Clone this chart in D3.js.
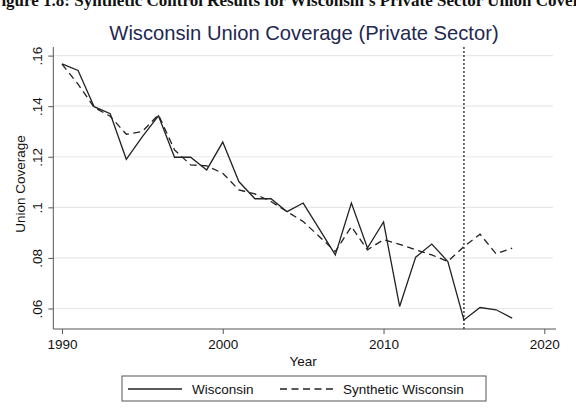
<!DOCTYPE html>
<html><head><meta charset="utf-8">
<script src="https://cdn.jsdelivr.net/npm/d3@7"></script>
<style>body{margin:0;background:#fff;}svg{display:block;font-family:"Liberation Sans",Arial,sans-serif;}</style>
</head><body>
<svg id="c" width="576" height="408"></svg>
<script>
const years = [1990,1991,1992,1993,1994,1995,1996,1997,1998,1999,2000,2001,2002,2003,2004,2005,2006,2007,2008,2009,2010,2011,2012,2013,2014,2015,2016,2017,2018];
const wisconsin = [0.1567,0.1541,0.1398,0.1370,0.1190,0.1280,0.1362,0.1198,0.1198,0.1148,0.1258,0.1102,0.1034,0.1034,0.0983,0.1017,0.0915,0.0812,0.1017,0.0839,0.0942,0.0608,0.0803,0.0855,0.0786,0.0555,0.0604,0.0595,0.0562];
const synthetic = [0.1566,0.1487,0.1395,0.1360,0.1289,0.1300,0.1366,0.1227,0.1168,0.1164,0.1135,0.1069,0.1053,0.1023,0.0983,0.0944,0.0885,0.0825,0.0924,0.0832,0.0872,0.0854,0.0832,0.0812,0.0786,0.0845,0.0894,0.0816,0.0839];
const xTicks = [1990,2000,2010,2020];
const yTicks = [0.06,0.08,0.10,0.12,0.14,0.16];
const yTickLabels = [".06",".08",".1",".12",".14",".16"];
const treatYear = 2015;
const seriesNames = ["Wisconsin","Synthetic Wisconsin"];
const titleText = "Wisconsin Union Coverage (Private Sector)";
const captionText = "Figure 1.8: Synthetic Control Results for Wisconsin\u2019s Private Sector Union Coverage";

const svg = d3.select("#c");
const L = 53.3, R = 553, T = 47, B = 329;
const x = d3.scaleLinear().domain([1989.46, 2020.54]).range([L, R]);
const y = d3.scaleLinear().domain([0.0519, 0.1634]).range([B, T]);

// caption (partly cut off at the top, as in the reference)
svg.append("text").attr("x", -9).attr("y", 6).attr("font-family", "'Liberation Serif',serif")
  .attr("font-weight", "bold").attr("font-size", 17).attr("fill", "#111").text(captionText);

// title
svg.append("text").attr("x", 304).attr("y", 40).attr("text-anchor", "middle")
  .attr("font-size", 20.2).attr("fill", "#1e2852").text(titleText);

// gridlines
svg.append("g").selectAll("line").data(yTicks).join("line")
  .attr("x1", L).attr("x2", R).attr("y1", d => y(d)).attr("y2", d => y(d))
  .attr("stroke", "#e8e8e8").attr("stroke-width", 1.2);

// axes
const yAxis = d3.axisLeft(y).tickValues(yTicks).tickSize(5).tickFormat((d,i) => yTickLabels[i]);
const gy = svg.append("g").attr("transform", `translate(${L},0)`).call(yAxis);
gy.select(".domain").attr("stroke", "#555").attr("d", `M0,${B}V${T}`);
gy.selectAll(".tick line").attr("stroke", "#555");
gy.selectAll(".tick text").attr("transform", "rotate(-90)").attr("x", 0).attr("y", -11)
  .attr("dy", 0).attr("text-anchor", "middle").attr("font-size", 13.5).attr("fill", "#111")
  .attr("font-family", "'Liberation Sans',Arial,sans-serif");

const xAxis = d3.axisBottom(x).tickValues(xTicks).tickSize(5).tickFormat(d3.format("d"));
const gx = svg.append("g").attr("transform", `translate(0,${B})`).call(xAxis);
gx.select(".domain").attr("stroke", "#555").attr("d", `M${L},0H${R+3}`);
gx.selectAll(".tick line").attr("stroke", "#555");
gx.selectAll(".tick text").attr("y", 10).attr("dy", "0.71em").attr("font-size", 13.5).attr("fill", "#111")
  .attr("font-family", "'Liberation Sans',Arial,sans-serif");

// axis titles
svg.append("text").attr("x", (L+R)/2).attr("y", 366).attr("text-anchor", "middle")
  .attr("font-size", 13.5).attr("fill", "#111").text("Year");
svg.append("text").attr("transform", `translate(25,${(T+B)/2 - 4}) rotate(-90)`).attr("text-anchor", "middle")
  .attr("font-size", 13.5).attr("fill", "#111").text("Union Coverage");

// treatment line
svg.append("line").attr("x1", x(treatYear)).attr("x2", x(treatYear)).attr("y1", T).attr("y2", B)
  .attr("stroke", "#333").attr("stroke-width", 1.4).attr("stroke-dasharray", "2,2");

const line = d3.line().x((d,i) => x(years[i])).y(d => y(d));
svg.append("path").datum(synthetic).attr("d", line).attr("fill", "none")
  .attr("stroke", "#222").attr("stroke-width", 1.3).attr("stroke-dasharray", "7,4.5");
svg.append("path").datum(wisconsin).attr("d", line).attr("fill", "none")
  .attr("stroke", "#222").attr("stroke-width", 1.3);

// legend
const lg = svg.append("g");
lg.append("rect").attr("x", 122).attr("y", 376).attr("width", 364).attr("height", 25)
  .attr("fill", "#fff").attr("stroke", "#555").attr("stroke-width", 1);
lg.append("line").attr("x1", 128).attr("x2", 182).attr("y1", 389).attr("y2", 389)
  .attr("stroke", "#222").attr("stroke-width", 1.3);
lg.append("text").attr("x", 192).attr("y", 393.5).attr("font-size", 13.5).attr("fill", "#111").text(seriesNames[0]);
lg.append("line").attr("x1", 280).attr("x2", 334).attr("y1", 389).attr("y2", 389)
  .attr("stroke", "#222").attr("stroke-width", 1.3).attr("stroke-dasharray", "7,4.5");
lg.append("text").attr("x", 343).attr("y", 393.5).attr("font-size", 13.5).attr("fill", "#111").text(seriesNames[1]);
</script>
</body></html>
